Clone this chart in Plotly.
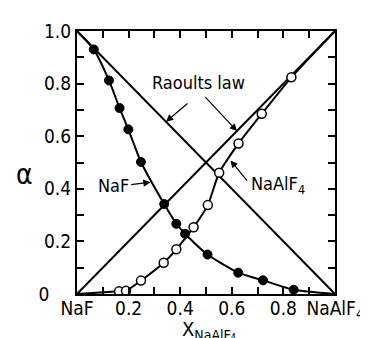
import plotly.graph_objects as go

naf_x = [0.065, 0.124, 0.165, 0.199, 0.248, 0.338, 0.385, 0.419, 0.506, 0.625, 0.721, 0.840]
naf_y = [0.930, 0.812, 0.707, 0.626, 0.502, 0.342, 0.267, 0.229, 0.150, 0.081, 0.052, 0.016]
alf_x = [0.163, 0.190, 0.248, 0.336, 0.385, 0.452, 0.507, 0.551, 0.626, 0.716, 0.831]
alf_y = [0.010, 0.012, 0.051, 0.119, 0.170, 0.254, 0.338, 0.461, 0.572, 0.685, 0.824]

# Curve end points (pure components)
naf_ends_x = [0.0, 1.0]
naf_ends_y = [1.0, 0.0]
alf_ends_x = [0.0, 1.0]
alf_ends_y = [0.0, 1.0]

# Raoult's law lines
raoult_x = [0.0, 1.0]
raoult_naf_y = [1.0, 0.0]
raoult_alf_y = [0.0, 1.0]

tick_vals = [0.0, 0.1, 0.2, 0.3, 0.4, 0.5, 0.6, 0.7, 0.8, 0.9, 1.0]
x_tick_text = ["NaF", "", "0.2", "", "0.4", "", "0.6", "", "0.8", "", "NaAlF<sub>4</sub>"]
y_tick_text = ["0\u00a0\u00a0\u00a0\u00a0", "", "0.2", "", "0.4", "", "0.6", "", "0.8", "", "1.0"]

FONT = "Liberation Sans Narrow, DejaVu Sans Condensed, Roboto Condensed, Arial Narrow, sans-serif"

fig = go.Figure()

line_style = dict(color="black", width=2)
fig.add_trace(go.Scatter(x=raoult_x, y=raoult_naf_y, mode="lines", line=line_style, hoverinfo="skip"))
fig.add_trace(go.Scatter(x=raoult_x, y=raoult_alf_y, mode="lines", line=line_style, hoverinfo="skip"))

naf_cx = [naf_ends_x[0]] + naf_x + [naf_ends_x[1]]
naf_cy = [naf_ends_y[0]] + naf_y + [naf_ends_y[1]]
alf_cx = [alf_ends_x[0]] + alf_x + [alf_ends_x[1]]
alf_cy = [alf_ends_y[0]] + alf_y + [alf_ends_y[1]]

fig.add_trace(go.Scatter(x=naf_cx, y=naf_cy, mode="lines",
                         line=dict(color="black", width=2, shape="spline", smoothing=0.6), hoverinfo="skip"))
fig.add_trace(go.Scatter(x=alf_cx, y=alf_cy, mode="lines",
                         line=dict(color="black", width=2, shape="spline", smoothing=0.6), hoverinfo="skip"))

fig.add_trace(go.Scatter(x=naf_x, y=naf_y, mode="markers",
                         marker=dict(size=9, color="black", line=dict(color="black", width=1))))
fig.add_trace(go.Scatter(x=alf_x, y=alf_y, mode="markers",
                         marker=dict(size=9, color="white", line=dict(color="black", width=1.5))))

ann_font = dict(family=FONT, size=18, color="black")
annotations = [
    dict(x=0.471, y=0.803, xref="x", yref="y", text="Raoults law", showarrow=False, font=ann_font),
    dict(x=0.142, y=0.413, xref="x", yref="y", text="NaF", showarrow=False, font=ann_font),
    dict(x=0.780, y=0.413, xref="x", yref="y", text="NaAlF<sub>4</sub>", showarrow=False, font=ann_font),
    dict(x=0, y=0.455, xref="paper", yref="paper", xanchor="center", xshift=-53, text="α",
         showarrow=False, font=dict(family=FONT, size=28, color="black")),
    dict(x=0.51, y=-0.136, xref="paper", yref="paper", text="X<sub>NaAlF₄</sub>", showarrow=False,
         yanchor="middle", font=dict(family=FONT, size=20, color="black")),
]
arrows = [
    ((0.345, 0.655), (0.434, 0.729)),
    ((0.620, 0.620), (0.492, 0.754)),
    ((0.285, 0.425), (0.204, 0.415)),
    ((0.595, 0.508), (0.664, 0.425)),
]
for (hx, hy), (tx, ty) in arrows:
    annotations.append(dict(x=hx, y=hy, ax=tx, ay=ty, xref="x", yref="y", axref="x", ayref="y",
                            text="", showarrow=True, arrowhead=2, arrowsize=1.2, arrowwidth=1.2,
                            arrowcolor="black", standoff=0, startstandoff=0))

axis_common = dict(range=[0, 1], showline=True, linecolor="black", linewidth=2, mirror="ticks",
                   ticks="inside", ticklen=7, tickwidth=2, tickcolor="black", showgrid=False,
                   zeroline=False, tickvals=tick_vals,
                   tickfont=dict(family=FONT, size=19, color="black"))

fig.update_layout(
    width=368, height=338,
    margin=dict(l=69, r=31, t=17, b=52),
    paper_bgcolor="white", plot_bgcolor="white",
    showlegend=False,
    xaxis=dict(**axis_common, ticktext=x_tick_text, ticklabelstandoff=-4),
    yaxis=dict(**axis_common, ticktext=y_tick_text),
    annotations=annotations,
)

fig.write_html("out.html")
